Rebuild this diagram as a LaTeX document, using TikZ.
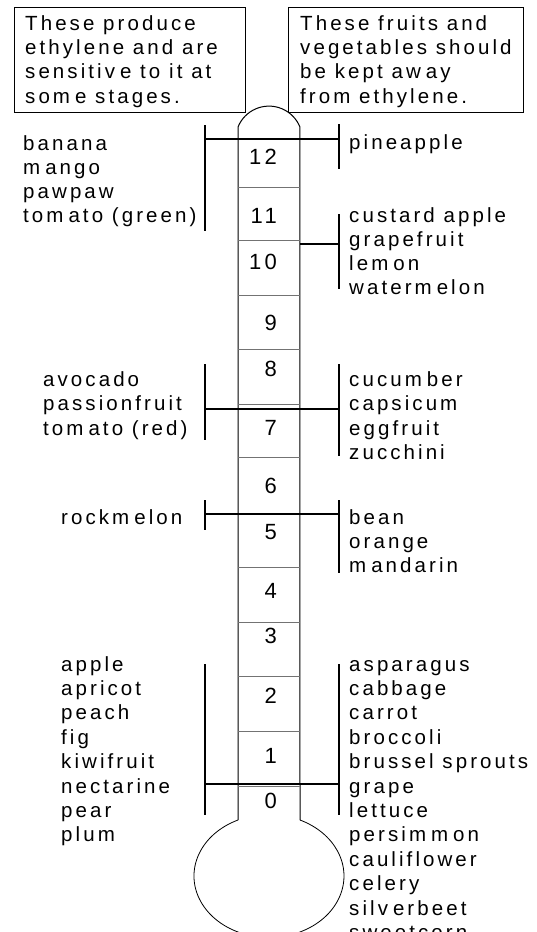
\documentclass[tikz,border=0pt]{standalone}
\usepackage{fontspec}
\setmainfont{Liberation Sans}[LetterSpace=15]
% small extra gap after some letters, as the lettering sets them
\newcommand\mgap{\kern5pt}

\begin{document}
\begin{tikzpicture}[x=1pt,y=-1pt,
  txt/.style={font=\fontsize{20.5}{24}\selectfont, inner sep=0pt, anchor=base west},
  num/.style={font=\fontsize{22}{24}\selectfont, inner sep=0pt, anchor=base east},
  infobox/.style={draw, line width=1.2pt, inner sep=0pt, anchor=north west},
  bar/.style={line width=1.5pt},
  tubeline/.style={line width=1pt},
  bulbline/.style={line width=0.8pt},
  cell/.style={draw=black!55, line width=1pt}]
\useasboundingbox (0,0) rectangle (536,932);

% ---- the two explanation boxes
\node[infobox, minimum width=231pt, minimum height=105pt] (boxL) at (14,7) {};
\node[infobox, minimum width=235pt, minimum height=105pt] (boxR) at (288,7) {};
\foreach \t [count=\i] in {These produce, ethylene and are,
    sensitiv\mgap e to it at, som\mgap e stages.}
  \node[txt] (bl\i) at (25,{30+24.4*(\i-1)}) {\t};
\foreach \t [count=\i] in {These fruits and, vegetables should,
    be kept aw\mgap ay, from ethylene.}
  \node[txt] (br\i) at (300,{30+24.4*(\i-1)}) {\t};

% ---- thermometer tube and bulb
\draw[tubeline] (238,820) -- (238,127)
  arc[start angle=202, end angle=338, radius=33.4] -- (300,820);
\draw[bulbline] (238,820)
  arc[start angle=245.6, end angle=-65.6, x radius=75, y radius=61.5];
\foreach \y in {187,240,295,349,404,457,513,567,622,676,731,786}
  \draw[cell] (238,\y) -- (300,\y);

% scale numbers
\foreach \n/\y in {12/164,11/223,10/269,9/330,8/376,7/435,6/493,
                   5/539,4/598,3/643,2/703,1/763,0/808}
  \node[num] (n\n) at (277,\y) {\n};

% ---- range brackets
% level 12
\draw[bar] (205,125) -- (205,231);
\draw[bar] (339,124) -- (339,169);
\draw[bar] (205,139) -- (339,139);
% levels 10-11
\draw[bar] (339,214) -- (339,289);
\draw[bar] (300,244) -- (339,244);
% level 7
\draw[bar] (205,364) -- (205,440);
\draw[bar] (339,364) -- (339,456);
\draw[bar] (205,409) -- (339,409);
% level 5
\draw[bar] (205,500) -- (205,530);
\draw[bar] (339,500) -- (339,573);
\draw[bar] (205,514) -- (339,514);
% level 0
\draw[bar] (205,664) -- (205,815);
\draw[bar] (339,664) -- (339,815);
\draw[bar] (205,784) -- (339,784);

% ---- produce lists
\foreach \t [count=\i] in {banana, m\mgap ango, pawpaw, tom\mgap ato (green)}
  \node[txt] (a\i) at (23,{150+24*(\i-1)}) {\t};
\node[txt] (b1) at (349,149) {pineapple};
\foreach \t [count=\i] in {custard apple, grapefruit, lem\mgap on, waterm\mgap elon}
  \node[txt] (c\i) at (349,{222+24*(\i-1)}) {\t};
\foreach \t [count=\i] in {avocado, passionfruit, tom\mgap ato (red)}
  \node[txt] (d\i) at (43,{386+24.5*(\i-1)}) {\t};
\foreach \t [count=\i] in {cucum\mgap ber, capsicum, eggfruit, zucchini}
  \node[txt] (e\i) at (349,{386+24.5*(\i-1)}) {\t};
\node[txt] (f1) at (61,524) {rockm\mgap elon};
\foreach \t [count=\i] in {bean, orange, m\mgap andarin}
  \node[txt] (g\i) at (349,{524+24*(\i-1)}) {\t};
\foreach \t [count=\i] in {apple, apricot, peach, fig, kiwifruit, nectarine, pear, plum}
  \node[txt] (h\i) at (61,{671+24.4*(\i-1)}) {\t};
\foreach \t [count=\i] in {asparagus, cabbage, carrot, broccoli, brussel sprouts,
    grape, lettuce, persim\mgap m\mgap on, cauliflower, celery,
    silv\mgap erbeet, sweetcorn}
  \node[txt] (k\i) at (349,{671+24.4*(\i-1)}) {\t};
\end{tikzpicture}
\end{document}
